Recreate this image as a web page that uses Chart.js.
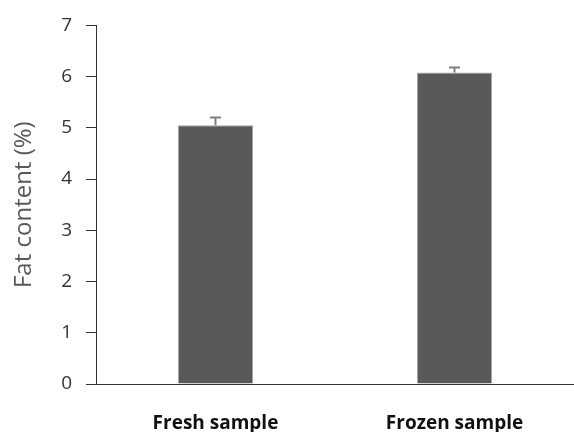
<!DOCTYPE html>
<html>
<head>
<meta charset="utf-8">
<script src="https://cdn.jsdelivr.net/npm/chart.js@4.4.1/dist/chart.umd.min.js"></script>
<style>
html,body{margin:0;padding:0;background:#fff;}
#wrap{width:574px;height:432px;position:relative;}
</style>
</head>
<body>
<div id="wrap"><canvas id="c" width="574" height="432"></canvas></div>
<script>
const categories = ["Fresh sample", "Frozen sample"];
const fatContent = [5.05, 6.08];
const errorUpper = [0.15, 0.10];
const yTicks = [0, 1, 2, 3, 4, 5, 6, 7];

const errorBars = {
  id: 'errorBars',
  afterDatasetsDraw(chart) {
    const ctx = chart.ctx;
    const meta = chart.getDatasetMeta(0);
    const ys = chart.scales.y;
    ctx.save();
    ctx.strokeStyle = '#7f7f7f';
    ctx.lineWidth = 2;
    meta.data.forEach((bar, i) => {
      const x = bar.x;
      const yTop = ys.getPixelForValue(fatContent[i] + errorUpper[i]);
      const yBase = ys.getPixelForValue(fatContent[i]);
      ctx.beginPath();
      ctx.moveTo(x, yBase);
      ctx.lineTo(x, yTop);
      ctx.moveTo(x - 5.5, yTop);
      ctx.lineTo(x + 5.5, yTop);
      ctx.stroke();
    });
    ctx.restore();
  }
};

new Chart(document.getElementById('c'), {
  type: 'bar',
  data: {
    labels: categories,
    datasets: [{
      data: fatContent,
      backgroundColor: '#595959',
      borderColor: '#a6a6a6',
      borderWidth: 1,
      barPercentage: 0.315,
      categoryPercentage: 1.0
    }]
  },
  options: {
    responsive: false,
    animation: false,
    layout: { padding: { left: 0, right: 0, top: 22, bottom: 0 } },
    plugins: { legend: { display: false }, tooltip: { enabled: false } },
    scales: {
      x: {
        grid: { display: false, drawTicks: false },
        border: { display: true, color: '#333333', width: 1 },
        ticks: {
          color: '#111111',
          font: { family: 'Open Sans', size: 19, weight: 'bold' },
          padding: 28,
          maxRotation: 0
        },
        afterFit(scale) { scale.height = 48; }
      },
      y: {
        min: 0,
        max: 7,
        afterBuildTicks(scale) { scale.ticks = yTicks.map(v => ({ value: v })); },
        grid: { display: true, drawOnChartArea: false, drawTicks: true, tickLength: 10, color: '#333333' },
        border: { display: true, color: '#333333', width: 1 },
        ticks: {
          color: '#333333',
          font: { family: 'Open Sans', size: 19 },
          padding: 14
        },
        title: {
          display: true,
          text: 'Fat content (%)',
          color: '#595959',
          font: { family: 'Open Sans', size: 24 },
          padding: { top: 10, bottom: 10 }
        },
        afterFit(scale) { scale.width = 96; }
      }
    }
  },
  plugins: [errorBars]
});
</script>
</body>
</html>
